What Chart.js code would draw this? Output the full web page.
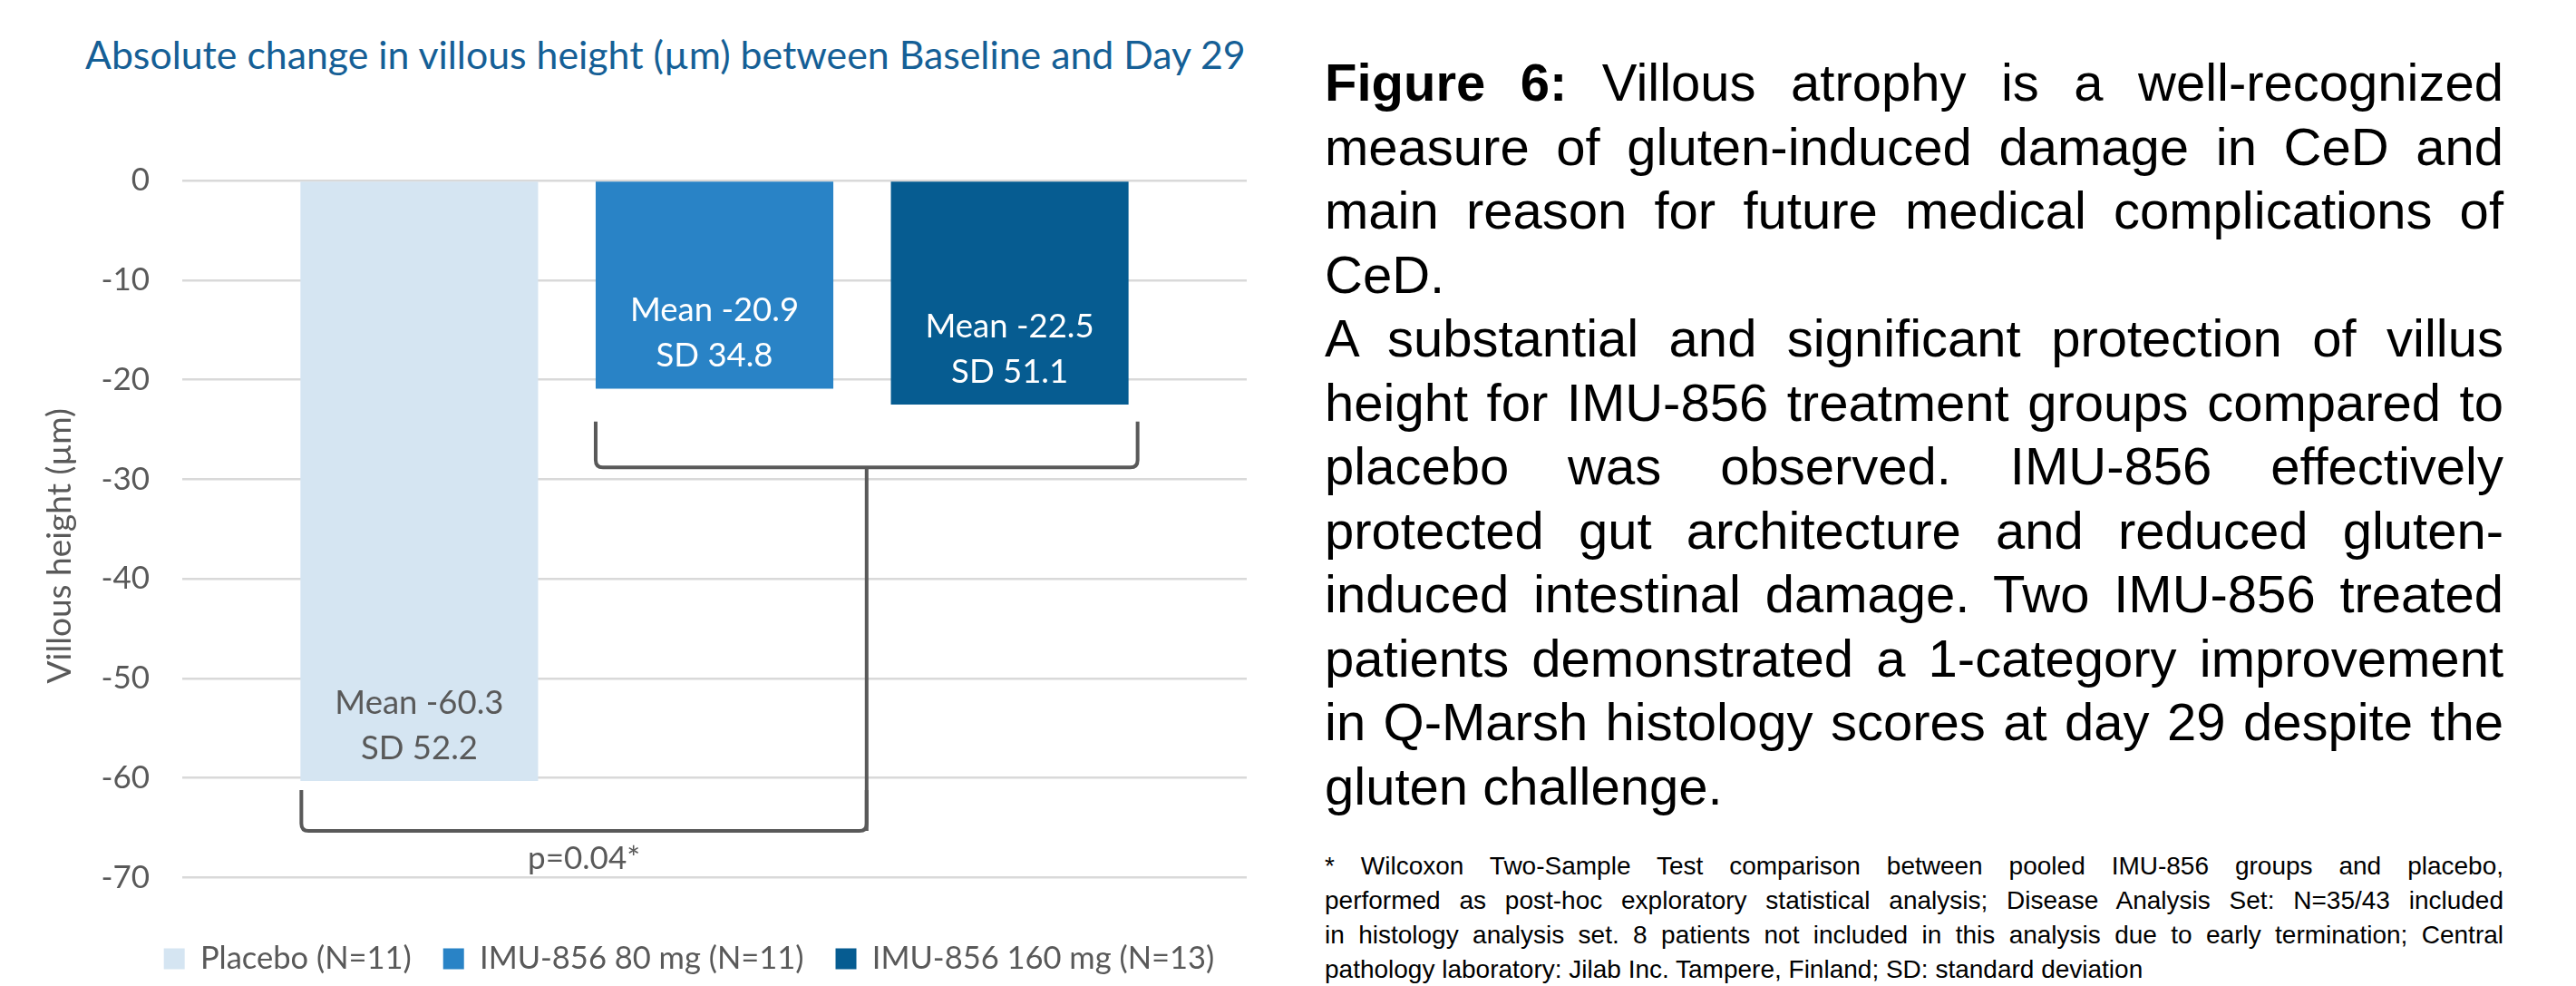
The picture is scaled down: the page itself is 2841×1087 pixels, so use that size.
<!DOCTYPE html>
<html>
<head>
<meta charset="utf-8">
<script src="https://cdn.jsdelivr.net/npm/chart.js@4.4.1/dist/chart.umd.min.js"></script>
<style>
    html, body { margin: 0; padding: 0; background: #fff; }
    body { width: 2841px; height: 1087px; position: relative; overflow: hidden; }
    #chartTitle { position: absolute; left: 94px; top: 36px; font-family: Lato, sans-serif; font-size: 42.8px; line-height: 48px; color: #155F96; white-space: nowrap; }
    #chartBox { position: absolute; left: 0; top: 0; width: 1420px; height: 1087px; }
    #caption { position: absolute; left: 1461px; top: 56px; width: 1300px; font-family: "Liberation Sans", Arial, sans-serif; font-size: 58px; line-height: 70.5px; color: #000; }
    #footnote { position: absolute; left: 1461px; top: 936px; width: 1300px; font-family: "Liberation Sans", Arial, sans-serif; font-size: 28px; line-height: 38px; color: #000; }
    .j { text-align: justify; text-align-last: justify; white-space: nowrap; }
    .l { text-align: left; white-space: nowrap; }
</style>
</head>
<body>
    <div id="chartTitle">Absolute change in villous height (µm) between Baseline and Day 29</div>
    <div id="chartBox"><canvas id="villusChart" width="1420" height="1087"></canvas></div>

    <div id="caption">
        <div class="j"><b>Figure 6:</b> Villous atrophy is a well-recognized</div>
        <div class="j">measure of gluten-induced damage in CeD and</div>
        <div class="j">main reason for future medical complications of</div>
        <div class="l">CeD.</div>
        <div class="j">A substantial and significant protection of villus</div>
        <div class="j">height for IMU-856 treatment groups compared to</div>
        <div class="j">placebo was observed. IMU-856 effectively</div>
        <div class="j">protected gut architecture and reduced gluten-</div>
        <div class="j">induced intestinal damage. Two IMU-856 treated</div>
        <div class="j">patients demonstrated a 1-category improvement</div>
        <div class="j">in Q-Marsh histology scores at day 29 despite the</div>
        <div class="l">gluten challenge.</div>
    </div>

    <div id="footnote">
        <div class="j">* Wilcoxon Two-Sample Test comparison between pooled IMU-856 groups and placebo,</div>
        <div class="j">performed as post-hoc exploratory statistical analysis; Disease Analysis Set: N=35/43 included</div>
        <div class="j">in histology analysis set. 8 patients not included in this analysis due to early termination; Central</div>
        <div class="l">pathology laboratory: Jilab Inc. Tampere, Finland; SD: standard deviation</div>
    </div>

<script>
// --- data ---
const groupNames = ['Placebo (N=11)', 'IMU-856 80 mg (N=11)', 'IMU-856 160 mg (N=13)'];
const meanChange = [-60.3, -20.9, -22.5];
const sdChange = [52.2, 34.8, 51.1];
const yMin = -70;
const yMax = 0;
const yStep = 10;
const pValueText = 'p=0.04*';

// --- styles ---
const barColors = ['#D5E5F2', '#2983C6', '#065C91'];
const labelColors = ['#595959', '#FFFFFF', '#FFFFFF'];
const GRAY = '#595959';
const FONT = 'Lato, sans-serif';

// bracket annotation levels (in axis units)
const bracketTreated = { top: -24.2, base: -28.8 };
const bracketPlacebo = { top: -61.2, base: -65.3 };
const pValueLevel = -68.1;

const LEGEND_CENTER_X = 760;
const LEGEND_TEXT_Y = 1057;

const legendPlacement = {
    id: 'legendPlacement',
    afterLayout(chart) {
        const lg = chart.legend;
        const dx = LEGEND_CENTER_X - (lg.left + lg.right) / 2;
        lg.left += dx;
        lg.right += dx;
        const size = chart.options.plugins.legend.labels.font.size;
        const pad = chart.options.plugins.legend.labels.padding;
        const dy = (LEGEND_TEXT_Y - pad - size / 2) - lg.top;
        lg.top += dy;
        lg.bottom += dy;
    }
};

function drawBracket(ctx, left, right, top, base, r) {
    ctx.beginPath();
    ctx.moveTo(left, top);
    ctx.lineTo(left, base - r);
    ctx.quadraticCurveTo(left, base, left + r, base);
    ctx.lineTo(right - r, base);
    ctx.quadraticCurveTo(right, base, right, base - r);
    ctx.lineTo(right, top);
    ctx.stroke();
}

const annotations = {
    id: 'annotations',
    afterDatasetsDraw(chart) {
        const ctx = chart.ctx;
        const y = chart.scales.y;
        const bars = chart.data.datasets.map((d, i) => chart.getDatasetMeta(i).data[0]);

        // mean / SD labels inside bar ends
        ctx.save();
        ctx.font = '36.5px ' + FONT;
        ctx.textAlign = 'center';
        ctx.textBaseline = 'middle';
        bars.forEach((bar, i) => {
            ctx.fillStyle = labelColors[i];
            ctx.fillText('Mean ' + meanChange[i].toFixed(1), bar.x, bar.y - 86);
            ctx.fillText('SD ' + sdChange[i].toFixed(1), bar.x, bar.y - 36);
        });

        // significance brackets
        ctx.strokeStyle = GRAY;
        ctx.lineWidth = 4;
        const upL = bars[1].x - bars[1].width / 2;
        const upR = bars[2].x + bars[2].width / 2 + 10;
        const stemX = (upL + upR) / 2;
        drawBracket(ctx, upL, upR, y.getPixelForValue(bracketTreated.top), y.getPixelForValue(bracketTreated.base), 8);
        const loL = bars[0].x - bars[0].width / 2 + 1;
        drawBracket(ctx, loL, stemX, y.getPixelForValue(bracketPlacebo.top), y.getPixelForValue(bracketPlacebo.base), 8);
        ctx.beginPath();
        ctx.moveTo(stemX, y.getPixelForValue(bracketTreated.base));
        ctx.lineTo(stemX, y.getPixelForValue(bracketPlacebo.base));
        ctx.stroke();

        ctx.font = '35px ' + FONT;
        ctx.fillStyle = GRAY;
        ctx.fillText(pValueText, (loL + stemX) / 2, y.getPixelForValue(pValueLevel));
        ctx.restore();
    }
};

document.fonts.ready.then(() => {
    new Chart(document.getElementById('villusChart'), {
        type: 'bar',
        data: {
            labels: [''],
            datasets: groupNames.map((name, i) => ({
                label: name,
                data: [meanChange[i]],
                backgroundColor: barColors[i],
                borderWidth: 0,
                categoryPercentage: 0.832,
                barPercentage: 0.805
            }))
        },
        options: {
            responsive: false,
            animation: false,
            layout: { padding: { top: 199, right: 45, bottom: 40, left: 38 } },
            plugins: {
                title: { display: false },
                tooltip: { enabled: false },
                legend: {
                    position: 'bottom',
                    labels: {
                        boxWidth: 23,
                        boxHeight: 23,
                        padding: 35,
                        color: GRAY,
                        font: { family: FONT, size: 34.5 }
                    }
                }
            },
            scales: {
                x: { display: false },
                y: {
                    min: yMin,
                    max: yMax,
                    ticks: { stepSize: yStep, color: GRAY, padding: 36, font: { family: FONT, size: 35 } },
                    grid: { color: '#D9D9D9', lineWidth: 2.5, drawTicks: false },
                    border: { display: false },
                    title: {
                        display: true,
                        text: 'Villous height (µm)\u2002\u2002',
                        color: GRAY,
                        font: { family: FONT, size: 37 },
                        padding: { top: 6, bottom: 0 }
                    },
                    afterFit(scale) { scale.width = 163; }
                }
            }
        },
        plugins: [legendPlacement, annotations]
    });
});
</script>
</body>
</html>
